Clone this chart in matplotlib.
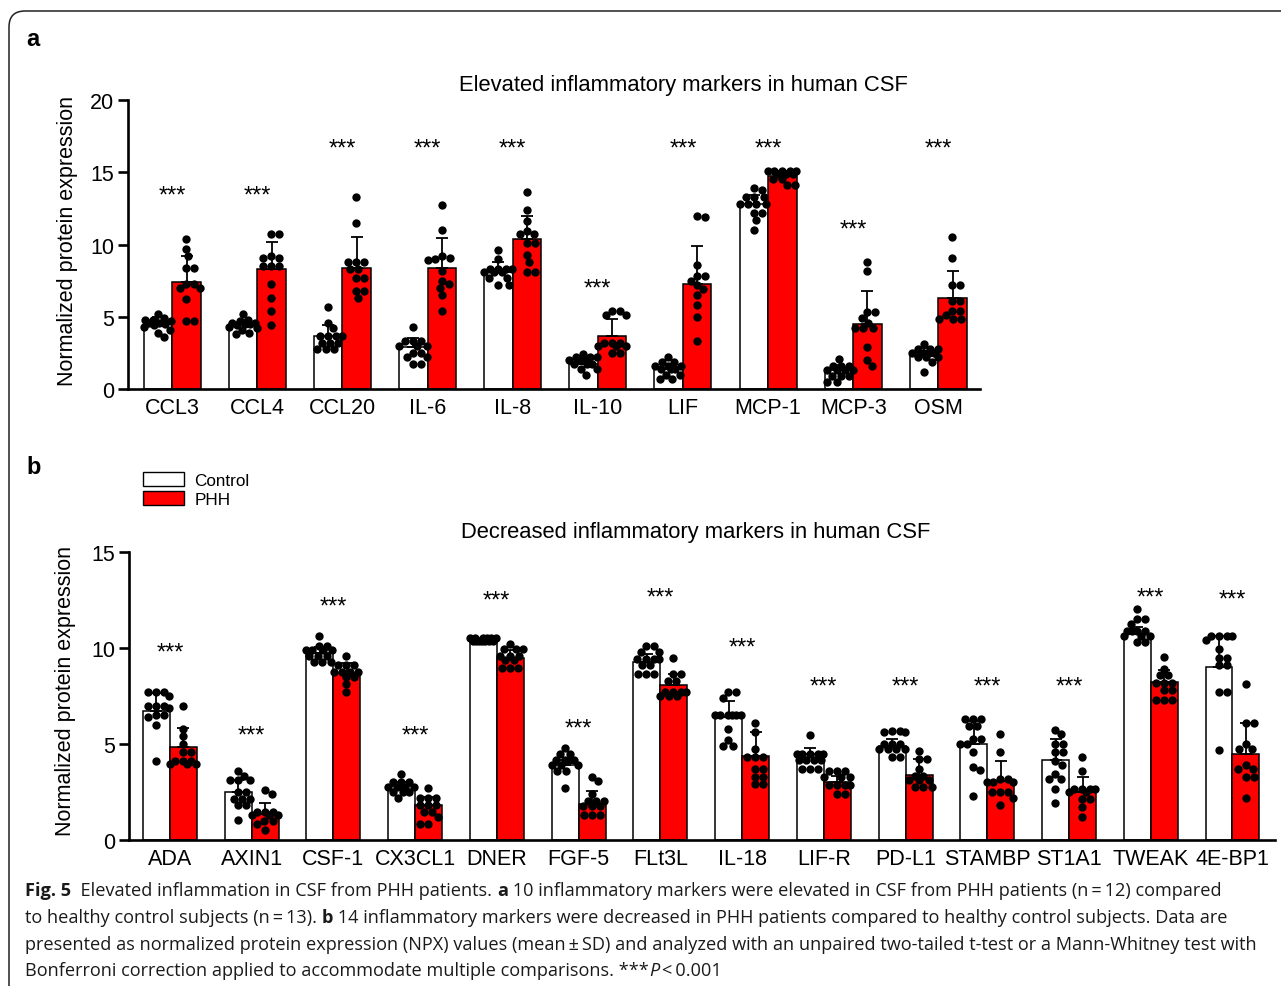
import numpy as np
import matplotlib
matplotlib.use('Agg')
import matplotlib.pyplot as plt
from matplotlib.patches import FancyBboxPatch, Patch
from matplotlib.transforms import IdentityTransform

plt.rcParams['font.family'] = ['Liberation Sans', 'DejaVu Sans']

W, H = 1281, 987

# ---------- panel a: elevated markers ----------
markers_a = ['CCL3', 'CCL4', 'CCL20', 'IL-6', 'IL-8', 'IL-10', 'LIF', 'MCP-1', 'MCP-3', 'OSM']
ctrl_mean_a = [4.7, 4.5, 3.7, 2.9, 8.1, 1.7, 1.4, 12.8, 1.3, 2.45]
ctrl_sd_a = [0.3, 0.3, 0.7, 0.6, 0.7, 0.3, 0.35, 0.65, 0.35, 0.4]
phh_mean_a = [7.4, 8.3, 8.4, 8.4, 10.35, 3.7, 7.3, 14.75, 4.5, 6.3]
phh_sd_a = [1.8, 1.85, 2.1, 2.05, 1.65, 1.15, 2.6, 0.35, 2.25, 1.9]
ctrl_pts_a = [
    [5.2, 4.9, 4.8, 4.8, 4.7, 4.6, 4.6, 4.5, 4.4, 4.3, 4.1, 3.9, 3.6],
    [5.2, 4.8, 4.7, 4.6, 4.6, 4.5, 4.5, 4.4, 4.3, 4.2, 4.1, 3.9, 3.8],
    [5.7, 4.6, 4.2, 3.7, 3.7, 3.7, 3.7, 3.2, 3.2, 3.2, 2.8, 2.8, 2.8],
    [4.3, 3.3, 3.3, 3.3, 3.0, 3.0, 3.0, 2.5, 2.5, 2.2, 2.2, 1.7, 1.7],
    [9.6, 9.0, 8.3, 8.3, 8.3, 8.3, 8.1, 8.1, 8.1, 7.7, 7.7, 7.2, 7.2],
    [2.4, 2.2, 2.2, 2.2, 2.0, 2.0, 2.0, 1.7, 1.7, 1.7, 1.4, 1.4, 1.0],
    [2.2, 1.85, 1.85, 1.6, 1.6, 1.6, 1.4, 1.4, 1.4, 1.0, 1.0, 0.7, 0.7],
    [13.9, 13.8, 13.3, 13.3, 13.3, 12.8, 12.8, 12.8, 12.8, 12.2, 12.2, 11.7, 11.0],
    [2.1, 1.6, 1.6, 1.6, 1.3, 1.3, 1.3, 1.3, 0.9, 0.9, 0.9, 0.5, 0.5],
    [3.1, 2.8, 2.8, 2.8, 2.5, 2.5, 2.5, 2.5, 2.2, 2.2, 2.2, 1.85, 1.2],
]
phh_pts_a = [
    [10.4, 9.7, 9.2, 8.4, 8.4, 7.3, 7.3, 7.0, 7.0, 6.2, 4.7, 4.7],
    [10.7, 10.7, 9.2, 9.1, 9.1, 8.5, 8.5, 8.5, 7.3, 6.3, 5.4, 4.4],
    [13.3, 11.5, 8.8, 8.8, 8.8, 8.3, 8.3, 7.7, 7.7, 6.8, 6.8, 6.3],
    [12.7, 11.0, 9.2, 9.1, 9.0, 8.9, 8.2, 7.5, 7.3, 7.0, 6.5, 5.4],
    [13.6, 12.4, 11.6, 10.9, 10.7, 10.7, 10.1, 10.1, 9.3, 8.8, 8.1, 8.1],
    [5.4, 5.4, 5.1, 5.1, 3.2, 3.2, 3.2, 3.0, 3.0, 3.0, 2.5, 2.5],
    [12.0, 11.9, 8.6, 7.8, 7.8, 7.5, 7.2, 6.9, 6.5, 5.8, 5.0, 3.3],
    [15.1, 15.1, 15.1, 15.1, 15.1, 14.9, 14.9, 14.9, 14.5, 14.5, 14.1, 14.1],
    [8.8, 8.2, 5.3, 5.3, 4.9, 4.6, 4.2, 4.2, 4.2, 2.9, 2.0, 1.6],
    [10.5, 9.1, 7.2, 7.2, 6.1, 6.1, 5.4, 5.4, 5.1, 4.85, 4.85, 4.85],
]
star_y_a = [13.7, 13.7, 16.95, 16.95, 16.95, 7.3, 16.95, 16.95, 11.35, 16.95]

# ---------- panel b: decreased markers ----------
markers_b = ['ADA', 'AXIN1', 'CSF-1', 'CX3CL1', 'DNER', 'FGF-5', 'FLt3L', 'IL-18', 'LIF-R',
             'PD-L1', 'STAMBP', 'ST1A1', 'TWEAK', '4E-BP1']
ctrl_mean_b = [6.7, 2.5, 9.75, 2.8, 10.4, 3.9, 9.25, 6.4, 4.5, 4.9, 5.0, 4.15, 10.75, 9.0]
ctrl_sd_b = [0.95, 0.6, 0.3, 0.2, 0.08, 0.25, 0.45, 0.85, 0.3, 0.35, 1.2, 1.1, 0.35, 1.65]
phh_mean_b = [4.85, 1.35, 8.7, 1.8, 9.5, 1.9, 8.05, 4.4, 3.0, 3.4, 3.05, 2.5, 8.25, 4.5]
phh_sd_b = [1.0, 0.6, 0.5, 0.45, 0.4, 0.65, 0.6, 1.2, 0.35, 0.8, 1.05, 0.8, 0.6, 1.6]
ctrl_pts_b = [
    [7.7, 7.7, 7.7, 7.5, 7.0, 7.0, 7.0, 6.9, 6.5, 6.5, 6.4, 6.0, 4.1],
    [3.6, 3.35, 3.1, 3.1, 3.1, 2.5, 2.5, 2.15, 2.15, 2.15, 1.8, 1.8, 1.05],
    [10.65, 10.1, 10.1, 9.9, 9.9, 9.9, 9.9, 9.6, 9.6, 9.6, 9.25, 9.25, 9.25],
    [3.45, 3.0, 3.0, 3.0, 2.75, 2.75, 2.75, 2.75, 2.75, 2.5, 2.5, 2.5, 2.2],
    [10.5, 10.5, 10.5, 10.5, 10.5, 10.5, 10.35, 10.35, 10.35, 10.35, 10.35, 10.35, 10.35],
    [4.8, 4.5, 4.5, 4.15, 4.15, 4.15, 4.15, 3.9, 3.9, 3.9, 3.6, 3.6, 2.7],
    [10.1, 10.1, 9.8, 9.8, 9.45, 9.45, 9.45, 9.45, 9.1, 9.1, 8.66, 8.66, 8.66],
    [7.7, 7.7, 7.4, 6.5, 6.5, 6.5, 6.5, 6.5, 6.5, 5.8, 5.2, 4.9, 4.9],
    [5.45, 4.5, 4.5, 4.5, 4.5, 4.5, 4.15, 4.15, 4.15, 4.15, 3.7, 3.7, 3.7],
    [5.7, 5.7, 5.6, 5.6, 5.0, 5.0, 5.0, 4.75, 4.75, 4.75, 4.75, 4.3, 4.3],
    [6.3, 6.3, 6.3, 5.95, 5.95, 5.25, 5.25, 5.0, 5.0, 4.6, 3.8, 3.65, 2.3],
    [5.75, 5.5, 5.0, 5.0, 4.6, 4.6, 4.1, 3.9, 3.45, 3.2, 3.2, 2.65, 1.95],
    [12.05, 11.5, 11.5, 11.25, 10.9, 10.9, 10.9, 10.9, 10.65, 10.65, 10.65, 10.3, 10.3],
    [10.6, 10.6, 10.6, 10.6, 10.4, 9.97, 9.5, 9.5, 9.1, 9.1, 7.7, 7.7, 4.7],
]
phh_pts_b = [
    [7.0, 5.8, 5.4, 5.0, 4.6, 4.6, 4.1, 4.1, 4.1, 3.96, 3.96, 3.96],
    [2.6, 2.4, 1.45, 1.45, 1.45, 1.3, 1.3, 1.3, 1.0, 1.0, 0.85, 0.5],
    [9.6, 9.1, 9.1, 9.1, 8.75, 8.75, 8.75, 8.75, 8.5, 8.5, 8.1, 7.7],
    [2.7, 2.2, 2.2, 2.2, 1.8, 1.8, 1.8, 1.45, 1.45, 1.2, 0.85, 0.85],
    [10.2, 9.95, 9.95, 9.95, 9.6, 9.6, 9.6, 9.35, 9.35, 8.95, 8.95, 8.95],
    [3.3, 3.05, 2.4, 2.05, 2.05, 2.05, 1.75, 1.75, 1.75, 1.3, 1.3, 1.3],
    [9.5, 8.66, 8.66, 8.3, 8.3, 7.7, 7.7, 7.7, 7.7, 7.5, 7.5, 7.5],
    [6.1, 5.6, 4.75, 4.3, 4.3, 4.3, 3.7, 3.7, 3.3, 3.3, 2.9, 2.9],
    [3.6, 3.6, 3.6, 3.3, 3.3, 3.3, 2.85, 2.85, 2.85, 2.85, 2.4, 2.4],
    [4.65, 4.2, 4.2, 3.7, 3.35, 3.35, 3.1, 3.1, 3.1, 2.75, 2.75, 2.75],
    [5.5, 4.6, 3.2, 3.2, 3.0, 3.0, 3.0, 2.5, 2.5, 2.5, 2.2, 1.8],
    [4.3, 3.6, 2.65, 2.65, 2.65, 2.65, 2.5, 2.5, 2.15, 2.15, 1.7, 1.2],
    [9.55, 8.9, 8.57, 8.57, 8.2, 8.2, 8.2, 7.8, 7.8, 7.27, 7.27, 7.27],
    [8.1, 6.1, 6.1, 5.0, 4.75, 4.75, 3.9, 3.7, 3.7, 3.3, 3.3, 2.2],
]
star_y_b = [10.0, 5.7, 12.4, 5.7, 12.7, 6.05, 12.9, 10.3, 8.26, 8.26, 8.26, 8.26, 12.9, 12.8]

RED = '#ff0000'
FS = 15.5


def swarm(vals, y_px, dot_px, half_px):
    """Simple beeswarm offsets (in pixels) so the dots do not overlap."""
    vals = np.asarray(vals, dtype=float)
    offs = np.zeros(len(vals))
    cand = sorted(np.arange(-half_px, half_px + 0.01, 1.0), key=lambda c: (abs(c), c))
    placed = []
    for i in np.argsort(-vals):
        y = vals[i] * y_px
        best, best_d = 0.0, -1
        for c in cand:
            d = min([np.hypot(c - px, y - py) for px, py in placed] or [1e9])
            if d >= dot_px * 0.92:
                best = c
                break
            if d > best_d:
                best, best_d = c, d
        offs[i] = best
        placed.append((best, y))
    return offs


def draw_panel(ax, names, cm, cs, pm, ps, cpts, ppts, stars, ymax, yticks, width, x_px, y_px):
    x = np.arange(len(names))
    xc = x - width / 2
    xp = x + width / 2
    ax.bar(xc, cm, width, color='white', edgecolor='black', linewidth=1.1, zorder=2)
    ax.bar(xp, pm, width, color=RED, edgecolor='black', linewidth=1.1, zorder=2)
    ax.errorbar(xc, cm, yerr=[np.zeros(len(cm)), cs], fmt='none', ecolor='black',
                elinewidth=1.3, capsize=4.5, capthick=1.3, zorder=3)
    ax.errorbar(xp, pm, yerr=[np.zeros(len(pm)), ps], fmt='none', ecolor='black',
                elinewidth=1.3, capsize=4.5, capthick=1.3, zorder=3)
    half = width * x_px / 2
    for i in range(len(names)):
        for pos, pts in ((xc[i], cpts[i]), (xp[i], ppts[i])):
            off = swarm(pts, y_px, 8.0, half) / x_px
            ax.scatter(pos + off, pts, s=36, color='black', linewidths=0, zorder=4)
        ax.annotate('***', (x[i], stars[i]), xytext=(0, -3.5), textcoords='offset points',
                    ha='center', va='center', fontsize=17, zorder=5)
    ax.set_ylim(0, ymax)
    ax.set_yticks(yticks)
    ax.set_xticks(x, names)
    ax.spines['top'].set_visible(False)
    ax.spines['right'].set_visible(False)
    ax.spines['left'].set_linewidth(1.9)
    ax.spines['bottom'].set_linewidth(1.9)
    ax.tick_params(axis='y', length=7, width=1.9, labelsize=FS, pad=3)
    ax.tick_params(axis='x', length=0, labelsize=FS, pad=6)
    ax.set_ylabel('Normalized protein expression', fontsize=FS)


fig = plt.figure(figsize=(W / 100, H / 100), dpi=100)

# outer frame with rounded top-left corner
frame = FancyBboxPatch((9, -30), 1320, H - 12 + 30, boxstyle='round,pad=0,rounding_size=16',
                       transform=IdentityTransform(), facecolor='none', edgecolor='#222222',
                       linewidth=1.1)
fig.patches.append(frame)

ax1 = fig.add_axes([128 / W, 1 - 390 / H, 852 / W, 289 / H])
draw_panel(ax1, markers_a, ctrl_mean_a, ctrl_sd_a, phh_mean_a, phh_sd_a, ctrl_pts_a, phh_pts_a,
           star_y_a, 20, [0, 5, 10, 15, 20], 0.335, 85.1, 14.45)
ax1.set_xlim(-0.52, 9.49)
ax1.yaxis.set_label_coords(-0.059, 0.516)

ax2 = fig.add_axes([129 / W, 1 - 841 / H, 1146 / W, 288 / H])
draw_panel(ax2, markers_b, ctrl_mean_b, ctrl_sd_b, phh_mean_b, phh_sd_b, ctrl_pts_b, phh_pts_b,
           star_y_b, 15, [0, 5, 10, 15], 0.33, 81.7, 19.2)
ax2.set_xlim(-0.50, 13.52)
ax2.yaxis.set_label_coords(-0.0462, 0.52)

fig.text(683 / W, 1 - 85 / H, 'Elevated inflammatory markers in human CSF', ha='center', va='center',
         fontsize=15.8)
fig.text(696 / W, 1 - 533 / H, 'Decreased inflammatory markers in human CSF', ha='center', va='center',
         fontsize=15.8)
fig.text(26 / W, 1 - 40 / H, 'a', fontsize=17, fontweight='bold', va='center')
fig.text(26 / W, 1 - 467 / H, 'b', fontsize=17, fontweight='bold', va='center')

handles = [Patch(facecolor='white', edgecolor='black', linewidth=1.0, label='Control'),
           Patch(facecolor=RED, edgecolor='black', linewidth=1.0, label='PHH')]
fig.legend(handles=handles, loc='upper left', bbox_to_anchor=(143 / W, 1 - 473 / H), frameon=False,
           fontsize=12.3, handlelength=2.4, handleheight=0.85, handletextpad=0.6, labelspacing=0.2,
           borderpad=0, borderaxespad=0)

# caption with mixed bold / italic pieces
cap_font = ['Open Sans', 'DejaVu Sans']
cap_fs = 13.1
caption = [
    [('Fig. 5', 'bold', 'normal'), ('  Elevated inflammation in CSF from PHH patients. ', 'normal', 'normal'),
     ('a', 'bold', 'normal'),
     (' 10 inflammatory markers were elevated in CSF from PHH patients (n\u2009=\u200912) compared', 'normal', 'normal')],
    [('to healthy control subjects (n\u2009=\u200913). ', 'normal', 'normal'), ('b', 'bold', 'normal'),
     (' 14 inflammatory markers were decreased in PHH patients compared to healthy control subjects. Data are',
      'normal', 'normal')],
    [('presented as normalized protein expression (NPX) values (mean\u2009\u00b1\u2009SD) and analyzed with an '
      'unpaired two-tailed t-test or a Mann-Whitney test with', 'normal', 'normal')],
    [('Bonferroni correction applied to accommodate multiple comparisons. ***', 'normal', 'normal'),
     ('P', 'normal', 'italic'), ('\u2009<\u20090.001', 'normal', 'normal')],
]
line_y = [891, 918, 945, 971]
renderer = fig.canvas.get_renderer()
for pieces, ly in zip(caption, line_y):
    xpos = 25
    for txt, wt, st in pieces:
        t = fig.text(xpos / W, 1 - ly / H, txt, fontsize=cap_fs, fontweight=wt, fontstyle=st,
                     family=cap_font, va='center', ha='left', color='#1a1a1a')
        bb = t.get_window_extent(renderer)
        xpos = bb.x1

fig.savefig('out.png', dpi=100)
